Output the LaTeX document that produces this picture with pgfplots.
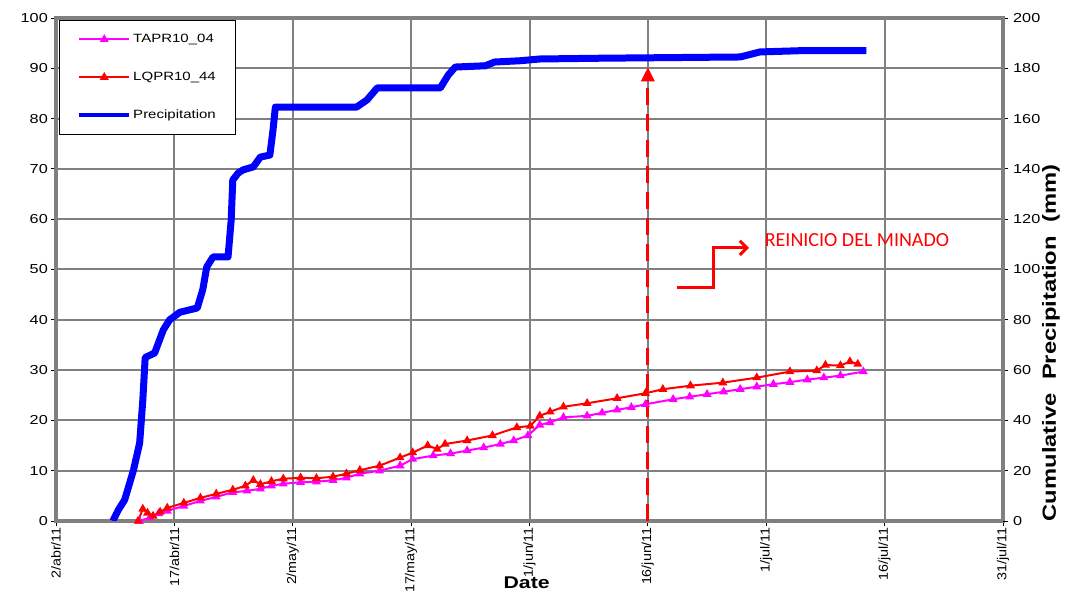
\documentclass[border=0pt]{standalone}
\usepackage{pgfplots}
\pgfplotsset{compat=1.18}
\usepackage{fontspec}
\setmainfont{Liberation Sans}
\newfontfamily\wide[FakeStretch=1.25]{Liberation Sans}
\newfontfamily\wideX[FakeStretch=1.1]{Liberation Sans}
\newfontfamily\carlito{Carlito}
\usetikzlibrary{calc,arrows.meta}
\definecolor{gridgray}{RGB}{128,128,128}
\definecolor{magentaA}{RGB}{255,0,255}
\definecolor{redA}{RGB}{255,0,0}
\definecolor{blueA}{RGB}{0,0,255}

\pgfplotstableread{
d v
10.6 0
11.9 0.7
13.0 1.5
14.1 2.0
16.2 3.0
18.3 4.0
20.3 4.8
22.4 5.7
24.2 6.0
25.9 6.4
27.3 7.0
28.8 7.4
31.0 7.7
33.0 7.8
35.1 8.1
36.8 8.6
38.5 9.4
41.0 10.0
43.6 11.0
45.2 12.3
47.8 13.0
50.0 13.4
52.1 14.0
54.2 14.6
56.3 15.3
58.0 16.0
59.8 17.0
61.3 19.1
62.6 19.6
64.3 20.6
67.3 20.9
69.2 21.5
71.1 22.1
72.9 22.6
74.7 23.2
78.2 24.2
80.3 24.7
82.5 25.2
84.6 25.7
86.7 26.2
88.8 26.7
90.9 27.2
93.0 27.6
95.2 28.1
97.3 28.5
99.4 28.9
102.3 29.7
}\tapr

\pgfplotstableread{
d v
10.4 0
11.0 2.4
11.6 1.6
12.3 1.0
13.2 1.8
14.1 2.6
16.2 3.6
18.3 4.6
20.3 5.4
22.4 6.2
24.0 7.0
25.0 8.1
25.9 7.3
27.3 7.9
28.8 8.4
31.0 8.6
33.0 8.5
35.1 8.8
36.8 9.4
38.5 10.1
41.0 11.0
43.6 12.6
45.2 13.6
47.1 15.0
48.3 14.3
49.3 15.3
52.1 16.0
55.3 17.0
58.4 18.6
60.1 18.9
61.3 20.9
62.6 21.7
64.3 22.7
67.3 23.4
71.1 24.4
74.7 25.4
76.9 26.2
80.4 26.9
84.5 27.5
88.8 28.5
93.0 29.7
96.4 29.9
97.5 31.0
99.4 30.9
100.6 31.7
101.6 31.2
}\lqpr

\pgfplotstableread{
d v
7.2 0
7.9 4.4
8.7 8.4
9.8 20
10.6 31
11.0 48
11.3 65
12.5 66.8
13.6 76
14.4 80
15.7 83
17.9 84.7
18.6 92
19.1 101
19.9 105
21.8 105
22.2 119.7
22.4 135.6
23.1 138.4
23.7 139.6
25.0 140.8
25.9 144.7
27.1 145.5
27.5 155.5
27.8 164.6
38.1 164.6
39.4 167.4
40.7 172.2
48.7 172.2
49.7 177.3
50.6 180.5
54.4 181
55.6 182.5
58.8 183
61.3 183.7
68.9 184
86.7 184.5
89.2 186.5
94.3 187
102.7 187
}\prec

\begin{document}
\begin{tikzpicture}
\begin{axis}[name=main,
  scale only axis, width=947pt, height=503pt,
  xmin=0, xmax=120, ymin=0, ymax=100,
  xtick={0,15,...,120},
  xticklabels={2/abr/11,17/abr/11,2/may/11,17/may/11,1/jun/11,16/jun/11,1/jul/11,16/jul/11,31/jul/11},
  ytick={0,10,...,100},
  xtick pos=bottom, ytick pos=left,
  tick align=outside, major tick length=5pt,
  tick style={black, line width=0.8pt},
  /pgf/number format/assume math mode=true,
  yticklabel style={font=\wide\fontsize{13}{15}\selectfont, inner sep=3pt},
  xticklabel style={font=\wideX\fontsize{13}{15}\selectfont, rotate=90, anchor=east, inner sep=1pt},
  grid=major, grid style={gridgray, line width=2pt},
  axis line style={gridgray, line width=3.5pt},
  xlabel={\textbf{Date}},
  xlabel style={at={(axis description cs:0.497,0)}, anchor=center, yshift=-62pt, font=\wide\fontsize{17}{19}\selectfont},
  legend style={at={(0.003,0.996)}, anchor=north west, draw=black, line width=0.8pt, fill=white,
    font=\wide\fontsize{12}{14}\selectfont, inner xsep=18pt, inner ysep=12pt, row sep=24pt},
  legend cell align=left,
  legend image code/.code={\draw[mark repeat=2,mark phase=2,#1] plot coordinates {(0pt,0pt) (25pt,0pt) (50pt,0pt)};},
]
\addplot[magentaA, line width=2pt, mark=triangle*, mark size=3.2pt, mark options={solid}] table[x=d,y=v] {\tapr};
\addlegendentry{TAPR10\_04}
\addplot[redA, line width=2pt, mark=triangle*, mark size=3.2pt, mark options={solid}] table[x=d,y=v] {\lqpr};
\addlegendentry{LQPR10\_44}
\addlegendimage{blueA, line width=4pt}
\addlegendentry{Precipitation}
\draw[redA, line width=3pt, dash pattern=on 17pt off 9pt, -{Triangle[length=14pt,width=13pt]}] (axis cs:75,0) -- (axis cs:75,90.2);
\draw[redA, line width=3pt, -{Straight Barb[length=7pt,width=14pt]}] (axis cs:78.7,46.5) -- (axis cs:83.3,46.5) -- (axis cs:83.3,54.3) -- (axis cs:87.8,54.3);
\node[anchor=west, text=redA, font=\carlito\fontsize{20}{22}\selectfont, inner sep=0pt] at (axis cs:89.8,55.9) {REINICIO DEL MINADO};
\end{axis}
\begin{axis}[
  scale only axis, width=947pt, height=503pt,
  xmin=0, xmax=120, ymin=0, ymax=200,
  axis x line=none, axis y line*=right,
  ytick={0,20,...,200},
  tick align=outside, major tick length=5pt,
  tick style={black, line width=0.8pt},
  /pgf/number format/assume math mode=true,
  ticklabel style={font=\wide\fontsize{13}{15}\selectfont},
  yticklabel style={inner sep=5pt},
  axis line style={gridgray, line width=3.5pt},
]
\addplot[blueA, line width=7pt, line join=round] table[x=d,y=v] {\prec};
\end{axis}
\node[rotate=90, anchor=center, inner sep=0pt, font=\wide\bfseries\fontsize{19}{21}\selectfont] at ($(main.south east)+(48pt,178pt)$) {Cumulative\ \ Precipitation\ \ (mm)};
\pgfresetboundingbox
\path ($(main.south west)+(-56pt,-76pt)$) rectangle ($(main.north east)+(66pt,18pt)$);
\end{tikzpicture}
\end{document}
